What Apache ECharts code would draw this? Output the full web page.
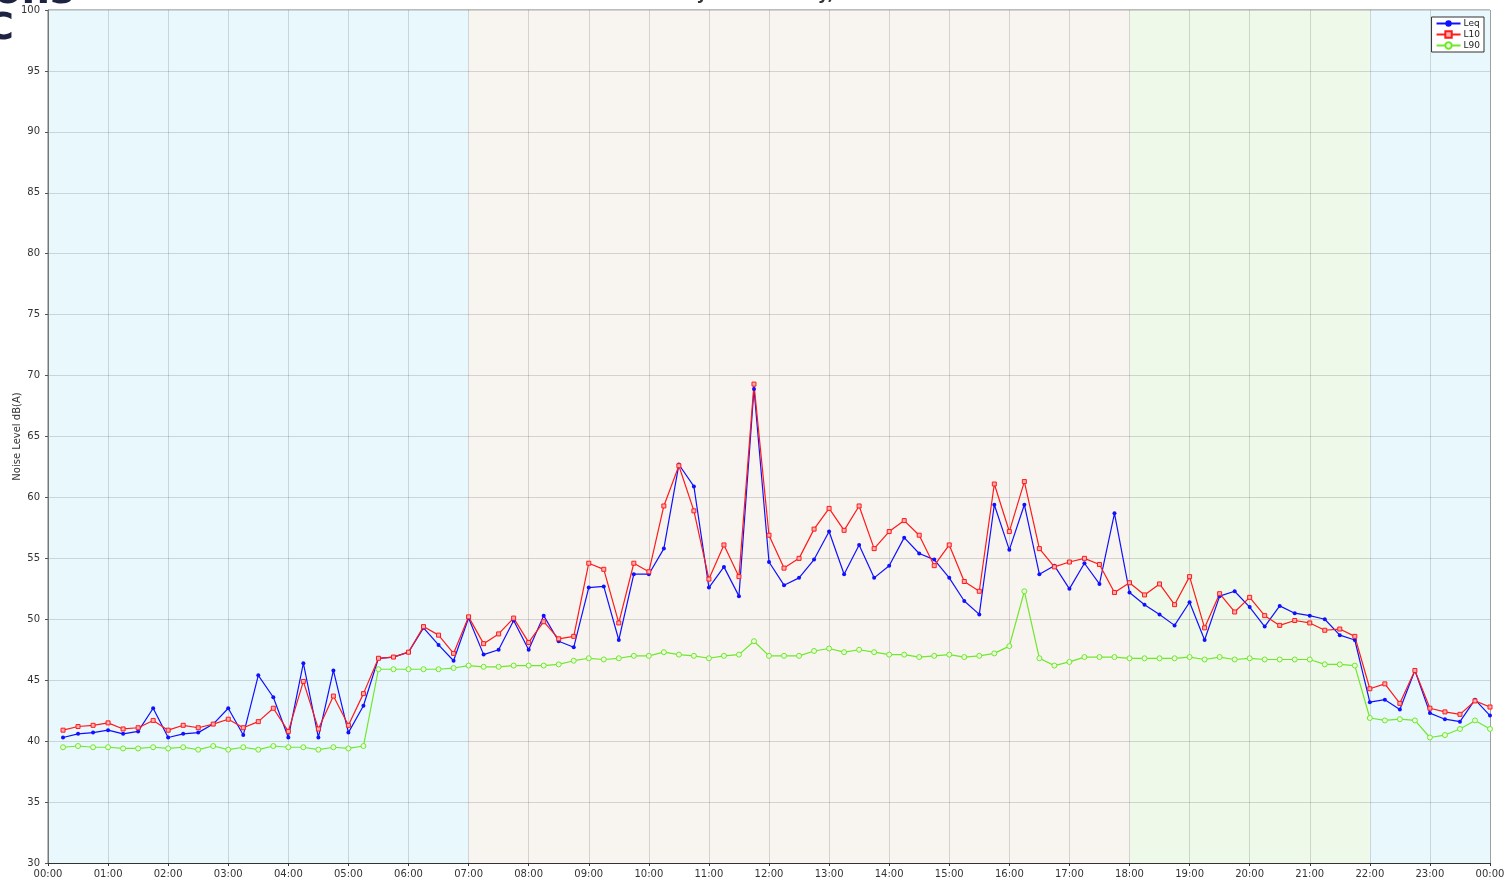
<!DOCTYPE html>
<html>
<head>
<meta charset="utf-8">
<script src="https://cdn.jsdelivr.net/npm/echarts@6/dist/echarts.min.js"></script>
<style>
  html, body { margin: 0; padding: 0; background: #fff; }
  #chart { width: 1508px; height: 884px; }
</style>
</head>
<body>
<div id="chart"></div>
<script>
// 15 minute intervals, end times
var times = [
  "00:15","00:30","00:45","01:00","01:15","01:30","01:45","02:00","02:15","02:30","02:45","03:00",
  "03:15","03:30","03:45","04:00","04:15","04:30","04:45","05:00","05:15","05:30","05:45","06:00",
  "06:15","06:30","06:45","07:00","07:15","07:30","07:45","08:00","08:15","08:30","08:45","09:00",
  "09:15","09:30","09:45","10:00","10:15","10:30","10:45","11:00","11:15","11:30","11:45","12:00",
  "12:15","12:30","12:45","13:00","13:15","13:30","13:45","14:00","14:15","14:30","14:45","15:00",
  "15:15","15:30","15:45","16:00","16:15","16:30","16:45","17:00","17:15","17:30","17:45","18:00",
  "18:15","18:30","18:45","19:00","19:15","19:30","19:45","20:00","20:15","20:30","20:45","21:00",
  "21:15","21:30","21:45","22:00","22:15","22:30","22:45","23:00","23:15","23:30","23:45","24:00"
];

var leq = [
  40.3,40.6,40.7,40.9,40.6,40.8,42.7,40.3,40.6,40.7,41.4,42.7,40.5,45.4,43.6,40.3,46.4,40.3,45.8,40.7,42.9,46.8,46.9,47.3,
  49.3,47.9,46.6,50.1,47.1,47.5,49.9,47.5,50.3,48.2,47.7,52.6,52.7,48.3,53.7,53.7,55.8,62.7,60.9,52.6,54.3,51.9,68.9,54.7,
  52.8,53.4,54.9,57.2,53.7,56.1,53.4,54.4,56.7,55.4,54.9,53.4,51.5,50.4,59.4,55.7,59.4,53.7,54.4,52.5,54.6,52.9,58.7,52.2,
  51.2,50.4,49.5,51.4,48.3,51.9,52.3,51.0,49.4,51.1,50.5,50.3,50.0,48.7,48.3,43.2,43.4,42.6,45.8,42.3,41.8,41.6,43.4,42.1
];
var l10 = [
  40.9,41.2,41.3,41.5,41.0,41.1,41.7,40.9,41.3,41.1,41.4,41.8,41.1,41.6,42.7,40.8,44.9,41.0,43.7,41.3,43.9,46.8,46.9,47.3,
  49.4,48.7,47.2,50.2,48.0,48.8,50.1,48.1,49.8,48.4,48.6,54.6,54.1,49.7,54.6,53.9,59.3,62.6,58.9,53.3,56.1,53.5,69.3,56.9,
  54.2,55.0,57.4,59.1,57.3,59.3,55.8,57.2,58.1,56.9,54.4,56.1,53.1,52.3,61.1,57.2,61.3,55.8,54.3,54.7,55.0,54.5,52.2,53.0,
  52.0,52.9,51.2,53.5,49.3,52.1,50.6,51.8,50.3,49.5,49.9,49.7,49.1,49.2,48.6,44.3,44.7,43.1,45.8,42.7,42.4,42.2,43.3,42.8
];
var l90 = [
  39.5,39.6,39.5,39.5,39.4,39.4,39.5,39.4,39.5,39.3,39.6,39.3,39.5,39.3,39.6,39.5,39.5,39.3,39.5,39.4,39.6,45.9,45.9,45.9,
  45.9,45.9,46.0,46.2,46.1,46.1,46.2,46.2,46.2,46.3,46.6,46.8,46.7,46.8,47.0,47.0,47.3,47.1,47.0,46.8,47.0,47.1,48.2,47.0,
  47.0,47.0,47.4,47.6,47.3,47.5,47.3,47.1,47.1,46.9,47.0,47.1,46.9,47.0,47.2,47.8,52.3,46.8,46.2,46.5,46.9,46.9,46.9,46.8,
  46.8,46.8,46.8,46.9,46.7,46.9,46.7,46.8,46.7,46.7,46.7,46.7,46.3,46.3,46.2,41.9,41.7,41.8,41.7,40.3,40.5,41.0,41.7,41.0
];

// day / evening / night periods (start, end)
var periods = [
  ["00:00", "07:00", "#e9f8fd"],
  ["07:00", "18:00", "#f8f4f0"],
  ["18:00", "22:00", "#eff9ea"],
  ["22:00", "24:00", "#e9f8fd"]
];

function toMin(t) {
  var p = t.split(":");
  return parseInt(p[0], 10) * 60 + parseInt(p[1], 10);
}
function pairs(vals) {
  return vals.map(function (v, i) { return [toMin(times[i]), v]; });
}

var chart = echarts.init(document.getElementById('chart'));

var option = {
  animation: false,
  backgroundColor: '#fff',
  textStyle: { fontFamily: 'DejaVu Sans, sans-serif' },
  graphic: [
    { type: 'text', left: 'center', top: -14,
      style: { text: 'Saturday 17 February, 2024', font: 'bold 17px DejaVu Sans', fill: '#333' } },
    { type: 'text', x: -6, y: -27,
      style: { text: 'ons', font: 'bold 40px DejaVu Sans', fill: '#1d2340' } },
    { type: 'text', x: -14, y: 10,
      style: { text: 'C', font: 'bold 38px DejaVu Sans', fill: '#1d2340' } }
  ],
  legend: {
    orient: 'vertical',
    right: 24,
    top: 17,
    data: ['Leq', 'L10', 'L90'],
    backgroundColor: '#fff',
    borderColor: '#333',
    borderWidth: 1,
    borderRadius: 0,
    padding: [2, 4, 2, 4],
    itemGap: 2,
    itemWidth: 24,
    itemHeight: 8,
    textStyle: { fontSize: 9, color: '#222', padding: [0, 0, 0, -2] }
  },
  grid: {
    left: 48, right: 18, top: 10, bottom: 21,
    outerBoundsMode: 'none',
    containLabel: false,
    show: true, borderColor: '#777', borderWidth: 1
  },
  xAxis: {
    type: 'value',
    min: 0, max: 1440, interval: 60,
    z: 1.5,
    axisLine: { onZero: false, lineStyle: { color: '#333' } },
    axisTick: { length: 3, lineStyle: { color: '#333' } },
    axisLabel: {
      fontSize: 10, color: '#333', margin: 6,
      formatter: function (v) {
        var h = Math.floor(v / 60) % 24, m = v % 60;
        return (h < 10 ? '0' : '') + h + ':' + (m < 10 ? '0' : '') + m;
      }
    },
    splitLine: { show: true, lineStyle: { color: 'rgba(0,0,0,0.14)' } }
  },
  yAxis: {
    type: 'value',
    min: 30, max: 100, interval: 5,
    z: 1.5,
    name: 'Noise Level dB(A)',
    nameLocation: 'middle',
    nameGap: 26,
    nameMoveOverlap: false,
    nameTextStyle: { fontSize: 10, color: '#333' },
    axisLine: { show: true, lineStyle: { color: '#777' } },
    axisTick: { show: true, length: 3, lineStyle: { color: '#555' } },
    axisLabel: { fontSize: 10, color: '#333', margin: 8 },
    splitLine: { show: true, lineStyle: { color: 'rgba(0,0,0,0.14)' } }
  },
  series: [
    {
      name: 'bands',
      type: 'line',
      z: 1,
      data: pairs(l90),
      symbol: 'none',
      lineStyle: { opacity: 0 },
      silent: true,
      markArea: {
        silent: true,
        data: periods.map(function (p) {
          return [
            { xAxis: toMin(p[0]), itemStyle: { color: p[2] } },
            { xAxis: toMin(p[1]) }
          ];
        })
      }
    },
    {
      name: 'Leq',
      type: 'line',
      z: 3,
      data: pairs(leq),
      color: '#1010ff',
      symbol: 'circle',
      symbolSize: 4,
      lineStyle: { width: 1.2, color: '#1010ff' },
      itemStyle: { color: '#1010ff' }
    },
    {
      name: 'L10',
      type: 'line',
      z: 3,
      data: pairs(l10),
      color: '#ff1a1a',
      symbol: 'rect',
      symbolSize: 4,
      lineStyle: { width: 1.2, color: '#ff1a1a' },
      itemStyle: { color: '#ffb0b0', borderColor: '#ff1a1a', borderWidth: 1 }
    },
    {
      name: 'L90',
      type: 'line',
      z: 3,
      data: pairs(l90),
      color: '#6fe82c',
      symbol: 'circle',
      symbolSize: 5,
      lineStyle: { width: 1.2, color: '#6fe82c' },
      itemStyle: { color: '#eaffdc', borderColor: '#6fe82c', borderWidth: 1 }
    }
  ]
};

chart.setOption(option);
</script>
</body>
</html>
